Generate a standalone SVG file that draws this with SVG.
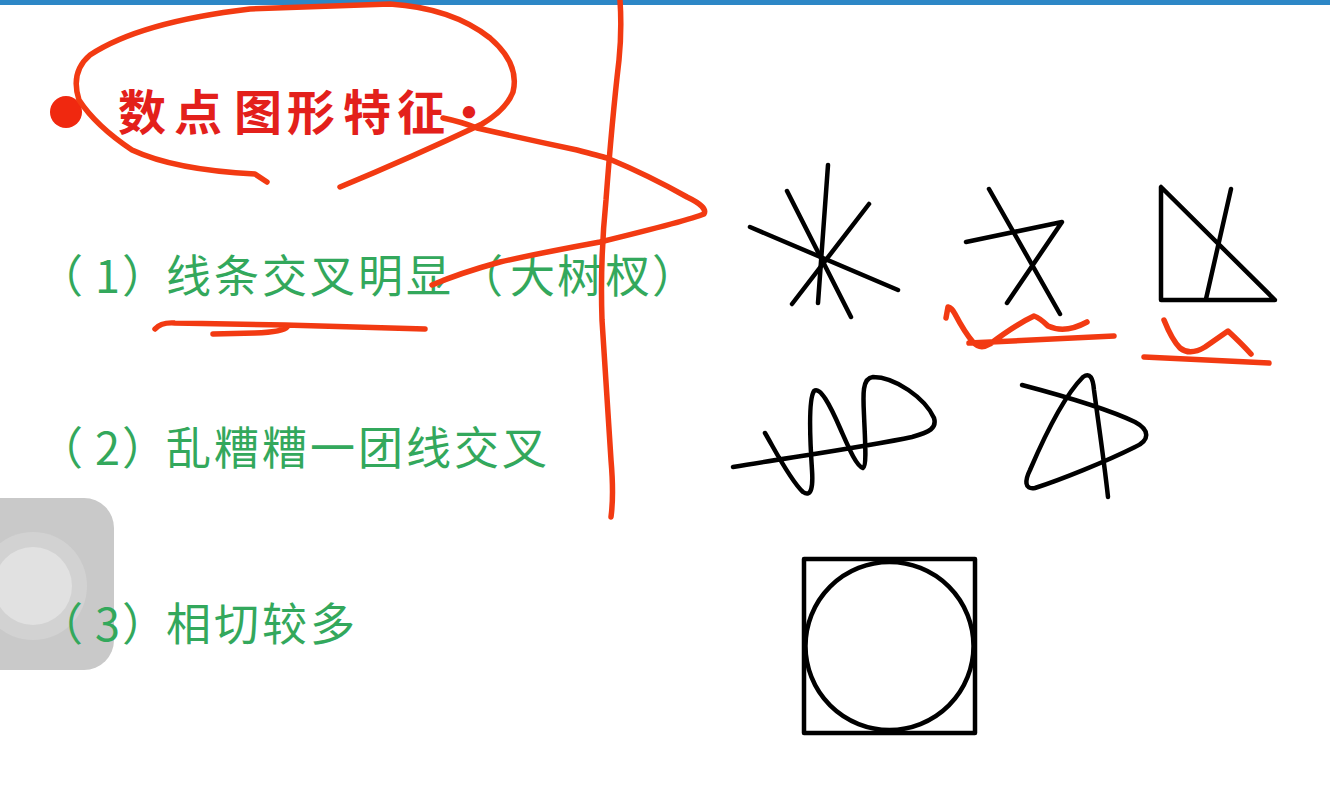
<svg xmlns="http://www.w3.org/2000/svg" width="1330" height="797" viewBox="0 0 1330 797">
<style>
.g{fill:#33a85c;font-family:"Noto Sans CJK SC","Noto Sans",sans-serif;font-size:45px}
.t{fill:#e3201b;font-family:"Noto Sans CJK SC",sans-serif;font-size:48px;font-weight:bold}
.k{fill:none;stroke:#000;stroke-width:4.5;stroke-linecap:round;stroke-linejoin:round}
.r{fill:none;stroke:#f23a12;stroke-width:5.5;stroke-linecap:round;stroke-linejoin:round}
</style>
<rect width="1330" height="797" fill="#fff"/>
<rect id="topbar" x="0" y="0" width="1330" height="5" fill="#2d87c6"/>
<g id="touch">
<rect x="-40" y="498" width="154" height="172" rx="30" fill="#c9c9c9"/>
<circle cx="33" cy="586" r="54" fill="#d2d2d2"/>
<circle cx="33" cy="586" r="39" fill="#e1e1e1"/>
</g>
<g id="title">
<circle cx="66" cy="112" r="16" fill="#f0280f"/>
<text class="t" x="118 174 234 287 343 397 445" y="130">数点图形特征·</text>
</g>
<g id="item1"><text class="g" x="38 95 122 166 214 262 310 358 406 458 510 557 605 652" y="293">（1）线条交叉明显（大树杈）</text></g>
<g id="item2"><text class="g" x="38 95 122 166 214 262 310 358 406 454 502" y="465">（2）乱糟糟一团线交叉</text></g>
<g id="item3"><text class="g" x="38 95 122 166 214 262 310" y="641">（3）相切较多</text></g>
<g id="fig-star" class="k">
<line x1="828" y1="165" x2="818" y2="303"/>
<line x1="787" y1="191" x2="851" y2="317"/>
<line x1="869" y1="204" x2="792" y2="304"/>
<line x1="750" y1="227" x2="898" y2="290"/>
</g>
<g id="fig-x" class="k">
<line x1="989" y1="189" x2="1060" y2="314"/>
<polyline points="966,242 1062,222 1007,303"/>
</g>
<g id="fig-tri" class="k">
<path d="M1161,187 L1161,300 L1275,300 Z"/>
<line x1="1231" y1="189" x2="1206" y2="299"/>
</g>
<g id="fig-zigzag" class="k">
<path d="M765,433 C775,450 790,480 803,492 C812,498 813,485 812,470 C810,440 808,400 814,391 C820,386 830,405 840,428 C848,446 856,466 863,468 C867,466 865,440 864,415 C863,395 862,378 873,377 C895,377 925,398 934,418 C937,428 930,432 912,437 C870,446 800,456 733,467"/>
</g>
<g id="fig-loop" class="k">
<path d="M1022,385 C1060,395 1110,410 1135,422 C1150,430 1150,440 1135,447 C1105,462 1060,480 1035,488 C1024,490 1025,480 1030,470 C1045,435 1065,395 1083,377 C1090,372 1093,378 1094,390 C1098,420 1104,460 1108,497"/>
</g>
<g id="fig-circle" class="k">
<rect x="804" y="559" width="171" height="174"/>
<circle cx="889.5" cy="646" r="84"/>
</g>
<g id="ink">
<path class="r" d="M267,182 L255,174 Q175,170 132,150 Q96,126 79,100 Q70,72 90,55 Q140,22 250,9 L390,4 Q452,8 490,38 Q520,64 513,92 Q506,110 482,124 Q410,158 340,187"/>
<path class="r" d="M443,118 Q462,122 477,128 Q530,140 577,150 Q600,156 607,158 Q650,176 687,197 Q708,207 704,214 Q690,220 600,242 Q540,253 500,262 Q460,273 432,285"/>
<path class="r" d="M620,0 Q622,30 619,60 Q612,120 606,200 Q600,260 602,320 Q607,400 611,460 Q614,495 611,517"/>
<path class="r" d="M155,329 Q161,322 175,323 L285,325 L425,329 M287,327 Q283,332 255,333 L213,334"/>
<path class="r" d="M946,318 L948,307 Q952,308 955,314 Q965,333 973,342 Q980,350 990,344 Q1015,325 1034,316 Q1040,318 1048,326 Q1065,334 1087,322 M969,343 L1114,336"/>
<path class="r" d="M1164,320 Q1172,340 1180,348 Q1190,356 1205,347 L1228,331 Q1242,344 1251,354 M1144,357 L1269,363"/>
</g>
</svg>
